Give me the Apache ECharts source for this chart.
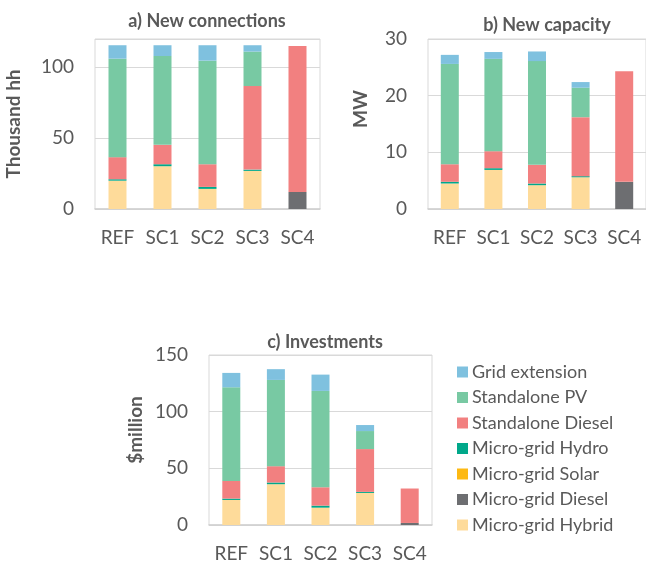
<!DOCTYPE html>
<html>
<head>
<meta charset="utf-8">
<script src="https://cdn.jsdelivr.net/npm/echarts@6/dist/echarts.min.js"></script>
<style>
  html, body { margin: 0; padding: 0; background: #fff; }
  #chart { width: 646px; height: 567px; }
</style>
</head>
<body>
<div id="chart"></div>
<script>
const categories = ["REF", "SC1", "SC2", "SC3", "SC4"];
// stack order, bottom to top
const seriesNames = ["Micro-grid Hybrid", "Micro-grid Diesel", "Micro-grid Solar", "Micro-grid Hydro",
  "Standalone Diesel", "Standalone PV", "Grid extension"];

// a) New connections (thousand hh)
const connHybrid = [20, 30.2, 14.2, 26.9, 0];
const connMgDiesel = [0, 0, 0, 0, 12];
const connSolar = [0, 0, 0, 0, 0];
const connHydro = [1, 1.4, 1.4, 0.9, 0];
const connSaDiesel = [15.6, 13.7, 16, 59, 103.1];
const connPV = [69.5, 62.7, 73.1, 24.3, 0];
const connGrid = [9.5, 7.6, 10.9, 4.5, 0];

// b) New capacity (MW)
const capHybrid = [4.5, 6.9, 4.2, 5.6, 0];
const capMgDiesel = [0, 0, 0, 0, 4.8];
const capSolar = [0, 0, 0, 0, 0];
const capHydro = [0.3, 0.3, 0.3, 0.2, 0];
const capSaDiesel = [3.1, 3.0, 3.3, 10.4, 19.5];
const capPV = [17.7, 16.3, 18.3, 5.2, 0];
const capGrid = [1.6, 1.2, 1.7, 1.0, 0];

// c) Investments ($million)
const invHybrid = [22.1, 36, 15.3, 28.3, 0];
const invMgDiesel = [0, 0, 0, 0, 1.8];
const invSolar = [0, 0, 0, 0, 0];
const invHydro = [1.2, 1.5, 1.8, 0.9, 0];
const invSaDiesel = [15.6, 14.4, 16.2, 37.8, 30.4];
const invPV = [82.6, 76.1, 85, 15.9, 0];
const invGrid = [12.7, 9.5, 14.4, 5.3, 0];

const colors = ["#fedb9a", "#6d6e71", "#fdb913", "#00a88a", "#f28080", "#78c9a3", "#7fc1df"];
const textColor = "#595959";
const font = "Lato";

const panels = [
  [connHybrid, connMgDiesel, connSolar, connHydro, connSaDiesel, connPV, connGrid],
  [capHybrid, capMgDiesel, capSolar, capHydro, capSaDiesel, capPV, capGrid],
  [invHybrid, invMgDiesel, invSolar, invHydro, invSaDiesel, invPV, invGrid]
];

const chart = echarts.init(document.getElementById("chart"));

function yAxis(idx, name, max, interval, gap, shift) {
  return {
    gridIndex: idx,
    type: "value",
    min: 0,
    max: max,
    interval: interval,
    name: name,
    nameLocation: "middle",
    nameGap: gap,
    nameTextStyle: {
      color: textColor, fontFamily: font, fontSize: 19, fontWeight: "bold",
      padding: [0, 0, 0, shift]
    },
    axisLine: { show: false },
    axisTick: { show: false },
    axisLabel: {
      color: textColor, fontFamily: font, fontSize: 19, margin: 21,
      formatter: function (v) { return v % interval === 0 ? v : ""; }
    },
    splitLine: { lineStyle: { color: "#d9d9d9", width: 1 } }
  };
}

function xAxis(idx) {
  return {
    gridIndex: idx,
    type: "category",
    data: categories,
    axisLine: { lineStyle: { color: "#d0d0d0", width: 1.5 } },
    axisTick: { show: false },
    axisLabel: { color: textColor, fontFamily: font, fontSize: 19, margin: 19, interval: 0 }
  };
}

const series = [];
panels.forEach(function (vals, p) {
  vals.forEach(function (d, i) {
    series.push({
      name: seriesNames[i],
      type: "bar",
      stack: "s" + p,
      xAxisIndex: p,
      yAxisIndex: p,
      barWidth: 18,
      itemStyle: { color: colors[i] },
      data: d
    });
  });
});

const titleStyle = { color: textColor, fontFamily: font, fontSize: 18, fontWeight: "bold" };

chart.setOption({
  animation: false,
  title: [
    { text: "a) New connections", left: 202, top: 7, textAlign: "center", textStyle: titleStyle },
    { text: "b) New capacity", left: 542, top: 11, textAlign: "center", textStyle: titleStyle },
    { text: "c) Investments", left: 320, top: 328, textAlign: "center", textStyle: titleStyle }
  ],
  legend: {
    orient: "vertical",
    left: 452,
    top: 358,
    itemWidth: 11,
    itemHeight: 11,
    itemGap: 7.5,
    icon: "rect",
    textStyle: { color: textColor, fontFamily: font, fontSize: 18, padding: [0, 0, 0, -1] },
    data: seriesNames.slice().reverse()
  },
  grid: [
    { left: 95, right: 326, top: 39, bottom: 358, show: true, borderColor: "#d9d9d9", borderWidth: 1 },
    { left: 428, right: -4, top: 39, bottom: 358, show: true, borderColor: "#d9d9d9", borderWidth: 1 },
    { left: 209, right: 214, top: 355, bottom: 42, show: true, borderColor: "#d9d9d9", borderWidth: 1 }
  ],
  xAxis: [xAxis(0), xAxis(1), xAxis(2)],
  yAxis: [
    yAxis(0, "Thousand hh", 120, 50, 72, 0),
    yAxis(1, "MW", 30, 10, 58, 30),
    yAxis(2, "$million", 150, 50, 64, 20)
  ],
  series: series
});
</script>
</body>
</html>
